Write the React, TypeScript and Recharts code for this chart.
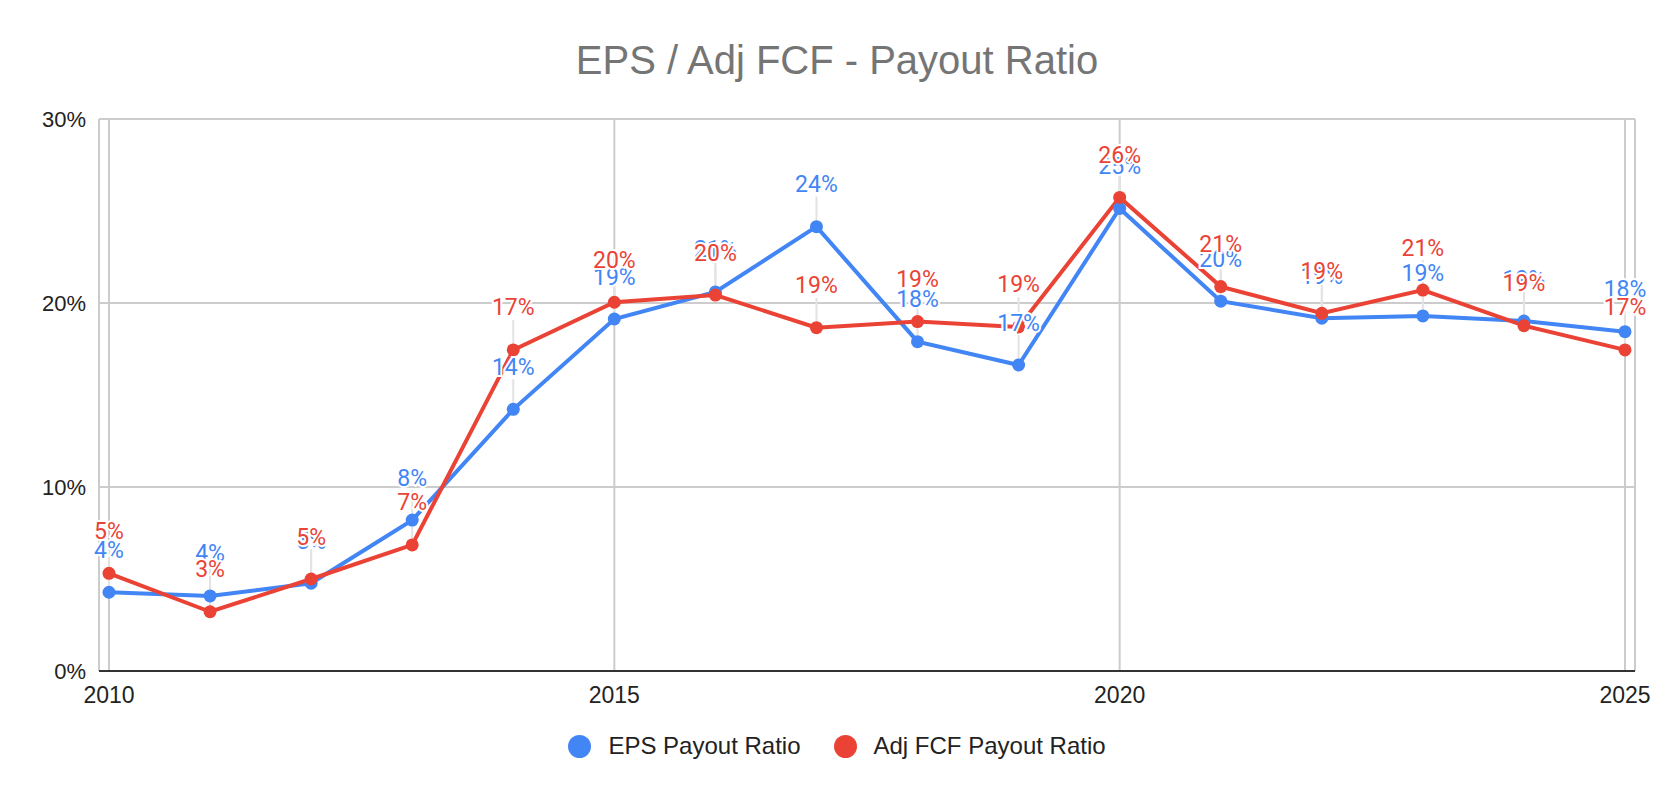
import React from 'react';
import { LineChart, Line, XAxis, YAxis, CartesianGrid, Legend, LabelList } from 'recharts';

const years = [2010, 2011, 2012, 2013, 2014, 2015, 2016, 2017, 2018, 2019, 2020, 2021, 2022, 2023, 2024, 2025];
const epsPayout = [4.28, 4.08, 4.77, 8.2, 14.22, 19.13, 20.6, 24.15, 17.9, 16.63, 25.14, 20.1, 19.17, 19.3, 19.02, 18.44];
const fcfPayout = [5.31, 3.22, 5.0, 6.85, 17.45, 20.04, 20.43, 18.66, 18.99, 18.7, 25.74, 20.89, 19.44, 20.7, 18.77, 17.45];
const xTicks = [2010, 2015, 2020, 2025];
const yTicks = [0, 10, 20, 30];

const BLUE = '#4285F4';
const RED = '#EA4335';
const ARIAL = 'Arial, "Liberation Sans", sans-serif';

const data = years.map((year, i) => ({ year, eps: epsPayout[i], fcf: fcfPayout[i] }));

// thin grey leader from the point up to its label, drawn as the "dot" of a hidden series under the lines
const leader = (props: any) => {
  const { cx, cy, index } = props;
  if (cx == null || cy == null) return <g key={index} />;
  return <line key={index} x1={cx} x2={cx} y1={cy - 6} y2={cy - 30} stroke="#e3e3e3" strokeWidth={2} />;
};

const makeLabel = (color: string) => (props: any) => {
  const { x, y, value } = props;
  if (x == null || y == null) return null;
  return (
    <text
      x={x}
      y={y - 42}
      textAnchor="middle"
      dominantBaseline="central"
      fill={color}
      stroke="#fff"
      strokeWidth={4}
      paintOrder="stroke"
      fontSize={23}
      fontFamily="Roboto, sans-serif"
    >
      {Math.round(value)}%
    </text>
  );
};

const legendItems = [
  { name: 'EPS Payout Ratio', color: BLUE },
  { name: 'Adj FCF Payout Ratio', color: RED },
];

function ChartLegend() {
  return (
    <div
      style={{
        height: 40,
        display: 'flex',
        alignItems: 'center',
        justifyContent: 'center',
        paddingLeft: 39,
        gap: 33,
        fontFamily: ARIAL,
        fontSize: 24,
        color: '#222',
      }}
    >
      {legendItems.map((item) => (
        <div key={item.name} style={{ display: 'flex', alignItems: 'center', gap: 17 }}>
          <span style={{ width: 23, height: 23, borderRadius: '50%', background: item.color, display: 'inline-block' }} />
          <span>{item.name}</span>
        </div>
      ))}
    </div>
  );
}

export default function App() {
  return (
    <div style={{ position: 'absolute', top: 0, left: 0, width: 1674, height: 798, background: '#fff' }}>
      <div
        style={{
          position: 'absolute',
          top: 40,
          left: 0,
          width: 1674,
          textAlign: 'center',
          fontFamily: ARIAL,
          fontSize: 40,
          lineHeight: '40px',
          color: '#757575',
        }}
      >
        EPS / Adj FCF - Payout Ratio
      </div>
      <LineChart width={1674} height={798} data={data} margin={{ top: 119, right: 39, bottom: 32, left: 0 }}>
        <CartesianGrid stroke="#cccccc" strokeWidth={2} />
        <XAxis
          dataKey="year"
          type="number"
          domain={[2010, 2025]}
          ticks={xTicks}
          padding={{ left: 10, right: 10 }}
          height={55}
          tickLine={false}
          tickMargin={10}
          axisLine={{ stroke: '#333', strokeWidth: 2 }}
          tick={{ fill: '#222', fontSize: 23, fontFamily: ARIAL }}
        />
        <YAxis
          type="number"
          domain={[0, 30]}
          ticks={yTicks}
          width={99}
          axisLine={false}
          tickLine={false}
          tickMargin={7}
          tickFormatter={(v: number) => `${v}%`}
          tick={{ fill: '#222', fontSize: 22, fontFamily: ARIAL }}
        />
        <Legend verticalAlign="bottom" content={() => <ChartLegend />} />
        <Line dataKey="eps" stroke="none" dot={leader} activeDot={false} legendType="none" isAnimationActive={false} />
        <Line dataKey="fcf" stroke="none" dot={leader} activeDot={false} legendType="none" isAnimationActive={false} />
        <Line
          dataKey="eps"
          stroke={BLUE}
          strokeWidth={4}
          dot={{ r: 6.5, fill: BLUE, stroke: 'none' }}
          activeDot={false}
          isAnimationActive={false}
        />
        <Line
          dataKey="fcf"
          stroke={RED}
          strokeWidth={4}
          dot={{ r: 6.5, fill: RED, stroke: 'none' }}
          activeDot={false}
          isAnimationActive={false}
        />
        <Line dataKey="eps" stroke="none" dot={false} activeDot={false} legendType="none" isAnimationActive={false}>
          <LabelList dataKey="eps" content={makeLabel(BLUE)} />
        </Line>
        <Line dataKey="fcf" stroke="none" dot={false} activeDot={false} legendType="none" isAnimationActive={false}>
          <LabelList dataKey="fcf" content={makeLabel(RED)} />
        </Line>
      </LineChart>
    </div>
  );
}
